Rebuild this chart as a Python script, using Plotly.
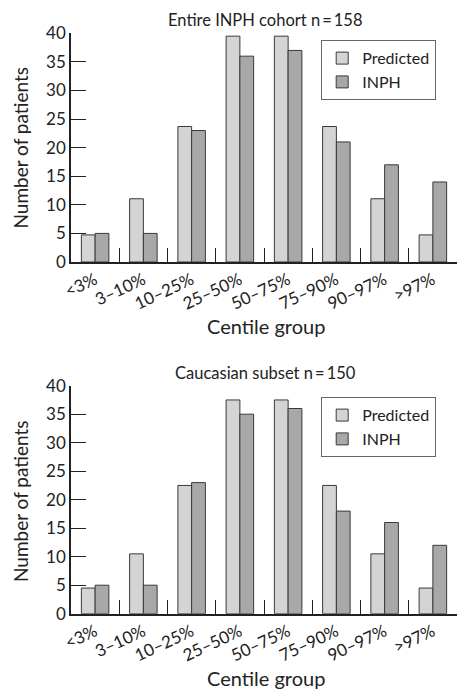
import plotly.graph_objects as go

categories = ["<3%", "3–10%", "10–25%", "25–50%", "50–75%", "75–90%", "90–97%", ">97%"]
top_predicted = [4.74, 11.06, 23.7, 39.5, 39.5, 23.7, 11.06, 4.74]
top_inph = [5, 5, 23, 36, 37, 21, 17, 14]
bottom_predicted = [4.5, 10.5, 22.5, 37.5, 37.5, 22.5, 10.5, 4.5]
bottom_inph = [5, 5, 23, 35, 36, 18, 16, 12]
top_title = "Entire INPH cohort n\u2009=\u2009158"
bottom_title = "Caucasian subset n\u2009=\u2009150"
y_ticks = [0, 5, 10, 15, 20, 25, 30, 35, 40]

FONT = "Lato"
PRED_COLOR = "#d4d4d4"
INPH_COLOR = "#a8a8aa"
LINE = "#3a3a3a"
TXT = "#222"
W, H = 457, 690

fig = go.Figure()
for (pred, inph, xa, ya, lg) in [(top_predicted, top_inph, "x", "y", "legend"),
                                 (bottom_predicted, bottom_inph, "x2", "y2", "legend2")]:
    fig.add_trace(go.Bar(x=categories, y=pred, name="Predicted", xaxis=xa, yaxis=ya,
                         marker=dict(color=PRED_COLOR, line=dict(color=LINE, width=1)),
                         legend=lg))
    fig.add_trace(go.Bar(x=categories, y=inph, name="INPH", xaxis=xa, yaxis=ya,
                         marker=dict(color=INPH_COLOR, line=dict(color=LINE, width=1)),
                         legend=lg))

def py(px):
    return (H - px) / H

xaxis_common = dict(
    type="category", range=[-0.5, 7.5], showgrid=False, showline=True,
    linecolor=TXT, linewidth=1.5, ticks="inside", tickson="boundaries",
    ticklen=14, tickcolor=TXT, tickwidth=1.2, tickangle=-25,
    tickfont=dict(family=FONT, size=17, color=TXT), domain=[71 / W, 1.0],
    automargin=False,
)
yaxis_common = dict(
    range=[0, 40], tickvals=y_ticks, showgrid=False, showline=True,
    linecolor=TXT, linewidth=1.5, ticks="inside", ticklen=15, tickcolor=TXT,
    tickwidth=1.2, tickfont=dict(family=FONT, size=17, color=TXT), zeroline=False,
    automargin=False,
)

legend_common = dict(
    bgcolor="white", bordercolor="#666", borderwidth=1.2,
    font=dict(family=FONT, size=16, color=TXT), xanchor="right", yanchor="top",
    x=436 / W, itemwidth=30, tracegroupgap=0,
)

fig.update_layout(
    width=W, height=H, margin=dict(l=0, r=0, t=0, b=0, autoexpand=False),
    paper_bgcolor="white", plot_bgcolor="white",
    barmode="group", bargap=0.43, bargroupgap=0.0,
    xaxis=dict(xaxis_common, anchor="y"),
    yaxis=dict(yaxis_common, domain=[py(262), py(33.3)], anchor="x"),
    xaxis2=dict(xaxis_common, anchor="y2"),
    yaxis2=dict(yaxis_common, domain=[py(613.7), py(385.7)], anchor="x2"),
    legend=dict(legend_common, y=py(40)),
    legend2=dict(legend_common, y=py(397)),
    showlegend=True,
)

annots = [
    dict(text=top_title, x=265 / W, y=py(20), xanchor="center", yanchor="middle",
         font=dict(family=FONT, size=16.5, color=TXT)),
    dict(text=bottom_title, x=265 / W, y=py(373), xanchor="center", yanchor="middle",
         font=dict(family=FONT, size=16.5, color=TXT)),
    dict(text="Centile group", x=266 / W, y=py(326), xanchor="center", yanchor="middle",
         font=dict(family=FONT, size=20, color=TXT)),
    dict(text="Centile group", x=266 / W, y=py(678), xanchor="center", yanchor="middle",
         font=dict(family=FONT, size=20, color=TXT)),
    dict(text="Number of patients", x=20 / W, y=py(147.5), xanchor="center", yanchor="middle",
         textangle=-90, font=dict(family=FONT, size=19, color=TXT)),
    dict(text="Number of patients", x=20 / W, y=py(501), xanchor="center", yanchor="middle",
         textangle=-90, font=dict(family=FONT, size=19, color=TXT)),
]
for a in annots:
    a.update(xref="paper", yref="paper", showarrow=False)
fig.update_layout(annotations=annots)

fig.write_html(
    "out.html",
    config={"displayModeBar": False},
    post_script="document.body.style.margin='0';document.body.style.overflow='hidden';",
)
